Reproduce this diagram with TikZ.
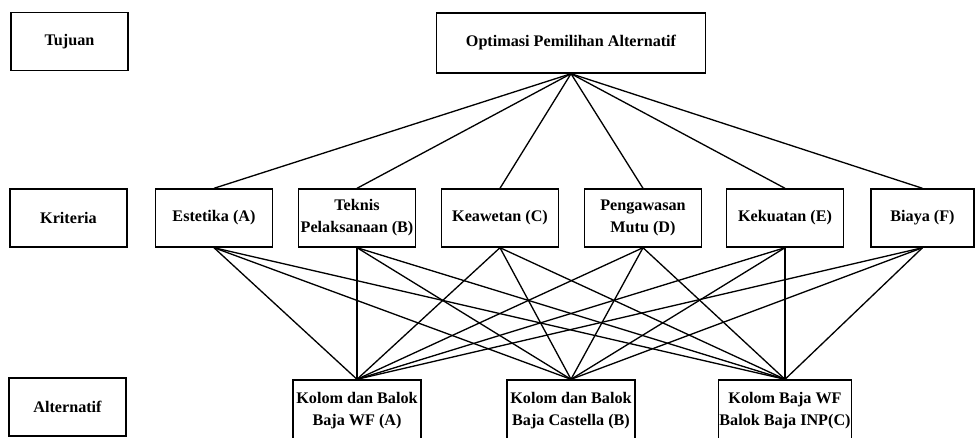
\documentclass[tikz,border=0pt]{standalone}
\usepackage{fontspec}
\setmainfont{Liberation Serif}
\usepackage{tikz}

\begin{document}
\begin{tikzpicture}[
	box/.style={shape=rectangle, draw=black, line width=0.8pt, align=center, inner sep=0.5pt,
		font=\bfseries\fontsize{9.2}{12.5}\selectfont, minimum width=2.34cm, minimum height=1.16cm},
	alt/.style={box, minimum width=2.56cm, minimum height=1.24cm},
	link/.style={-, line width=0.75pt}
	]
	\useasboundingbox (0, 0) rectangle (19.56, -8.74);
	
	% level labels
	\node[box] (tujuan) at (1.39, -0.83) {Tujuan};
	\node[box] (kriteria) at (1.37, -4.36) {Kriteria};
	\node[box] (alternatif) at (1.35, -8.14) {Alternatif};
	
	% goal
	\node[box, minimum width=5.38cm, minimum height=1.2cm] (goal) at (11.42, -0.86) {Optimasi Pemilihan Alternatif};
	
	% criteria
	\node[box] (ka) at (4.28, -4.36)  {Estetika (A)};
	\node[box] (kb) at (7.14, -4.36)  {Teknis\\Pelaksanaan (B)};
	\node[box] (kc) at (10.00, -4.36) {Keawetan (C)};
	\node[box] (kd) at (12.86, -4.36) {Pengawasan\\Mutu (D)};
	\node[box] (ke) at (15.70, -4.36) {Kekuatan (E)};
	\node[box, minimum width=2.06cm] (kf) at (18.45, -4.36) {Biaya (F)};
	
	% alternatives
	\node[alt] (aa) at (7.14, -8.22)  {Kolom dan Balok\\Baja WF (A)};
	\node[alt] (ab) at (11.42, -8.22) {Kolom dan Balok\\Baja Castella (B)};
	\node[alt] (ac) at (15.70, -8.22) {Kolom Baja WF\\Balok Baja INP(C)};
	
	\path[link] (goal.south) edge (ka.north);
	\path[link] (goal.south) edge (kb.north);
	\path[link] (goal.south) edge (kc.north);
	\path[link] (goal.south) edge (kd.north);
	\path[link] (goal.south) edge (ke.north);
	\path[link] (goal.south) edge (kf.north);
	
	\path[link] (ka.south) edge (aa.north);
	\path[link] (ka.south) edge (ab.north);
	\path[link] (ka.south) edge (ac.north);
	\path[link] (kb.south) edge (aa.north);
	\path[link] (kb.south) edge (ab.north);
	\path[link] (kb.south) edge (ac.north);
	\path[link] (kc.south) edge (aa.north);
	\path[link] (kc.south) edge (ab.north);
	\path[link] (kc.south) edge (ac.north);
	\path[link] (kd.south) edge (aa.north);
	\path[link] (kd.south) edge (ab.north);
	\path[link] (kd.south) edge (ac.north);
	\path[link] (ke.south) edge (aa.north);
	\path[link] (ke.south) edge (ab.north);
	\path[link] (ke.south) edge (ac.north);
	\path[link] (kf.south) edge (aa.north);
	\path[link] (kf.south) edge (ab.north);
	\path[link] (kf.south) edge (ac.north);
	
\end{tikzpicture}
\end{document}
